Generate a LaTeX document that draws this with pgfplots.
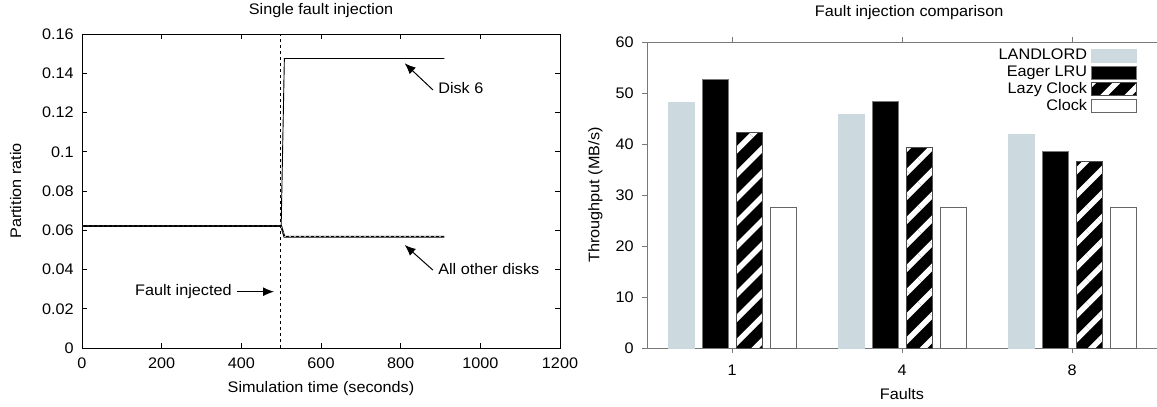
\documentclass[border=0pt]{standalone}
\usepackage{fontspec}
\setmainfont{Liberation Sans}[FakeStretch=1.06]
\usepackage{pgfplots}
\pgfplotsset{compat=1.18}
\usetikzlibrary{arrows.meta,patterns.meta}

\definecolor{landlord}{RGB}{204,218,224}
\definecolor{axgray}{RGB}{120,120,120}

\begin{document}
\fontsize{15.3bp}{18bp}\selectfont
\begin{tikzpicture}[x=1bp,y=1bp]
\useasboundingbox (0,0) rectangle (1157,406);

% left: partition ratio over time
\begin{axis}[
    at={(82bp,58bp)}, anchor=south west,
    scale only axis, width=478bp, height=314bp,
    xmin=0, xmax=1200, ymin=0, ymax=0.16,
    xtick={0,200,400,600,800,1000,1200},
    xticklabels={0,200,400,600,800,1000,1200},
    ytick={0,0.02,0.04,0.06,0.08,0.1,0.12,0.14,0.16},
    yticklabels={0,0.02,0.04,0.06,0.08,0.1,0.12,0.14,0.16},
    tick align=inside, major tick length=5bp,
    axis line style={line width=0.6bp},
    every tick/.style={black, line width=0.6bp},
    yticklabel style={xshift=-3bp},
    xticklabel style={yshift=-4.5bp},
    every axis title shift=0pt,
    title={Single fault injection},
    title style={at={(axis description cs:0.5,1.076)}, anchor=center},
    xlabel={Simulation time (seconds)},
    xlabel style={at={(axis description cs:0.5,-0.13)}, anchor=center},
    ylabel={Partition ratio},
    ylabel style={at={(axis description cs:-0.139,0.5)}, anchor=center, rotate=0},
    clip=false,
]
\addplot[black, line width=1.8bp] coordinates {(0,0.0622) (500,0.0622) (508,0.0567) (910,0.0567)};
\addplot[white, line width=0.5bp, dash pattern=on 2bp off 3bp] coordinates {(0,0.0622) (500,0.0622) (508,0.0567) (910,0.0567)};
\addplot[black, line width=0.9bp] coordinates {(0,0.0622) (500,0.0622) (508,0.1475) (910,0.1475)};
\addplot[black, line width=0.8bp, dash pattern=on 3bp off 3bp] coordinates {(497,0) (497,0.16)};

\draw[-{Latex[length=11bp,width=9bp]}, line width=1bp] (axis cs:881,0.1315) -- (axis cs:810,0.1451);
\node[anchor=west, inner sep=0pt] at (axis cs:894,0.1323) {Disk 6};
\draw[-{Latex[length=11bp,width=9bp]}, line width=1bp] (axis cs:881,0.0397) -- (axis cs:810,0.0525);
\node[anchor=west, inner sep=0pt] at (axis cs:894,0.0401) {All other disks};
\draw[-{Latex[length=11bp,width=9bp]}, line width=1bp] (axis cs:389,0.0287) -- (axis cs:482,0.0287);
\node[anchor=east, inner sep=0pt] at (axis cs:376,0.0287) {Fault injected};
\end{axis}

% right: throughput by number of faults
\begin{axis}[
    at={(647bp,58bp)}, anchor=south west,
    scale only axis, width=510bp, height=306bp,
    xmin=-0.5, xmax=2.5, ymin=0, ymax=60,
    xtick={0,1,2}, xticklabels={1,4,8},
    ytick={0,10,20,30,40,50,60},
    yticklabels={0,10,20,30,40,50,60},
    tick align=outside, major tick length=5bp,
    xtick pos=both, ytick pos=left,
    axis line style={axgray, line width=0.8bp},
    every tick/.style={axgray, line width=0.8bp},
    yticklabel style={xshift=-3bp},
    xticklabel style={yshift=-6.5bp},
    every axis title shift=0pt,
    title={Fault injection comparison},
    title style={at={(axis description cs:0.514,1.097)}, anchor=center},
    xlabel={Faults},
    xlabel style={at={(axis description cs:0.5,-0.150)}, anchor=center},
    ylabel={Throughput (MB/s)},
    ylabel style={at={(axis description cs:-0.101,0.5)}, anchor=center, rotate=0},
    legend plot pos=right,
    legend cell align=right,
    legend image code/.code={\draw[#1] (0bp,-6.5bp) rectangle (45bp,6.5bp);},
    legend style={draw=none, fill=none, at={(axis cs:2.40,59.3)}, anchor=north east,
        nodes={inner sep=1bp, text height=11bp, text depth=3bp},
        row sep=0.8bp, column sep=3bp},
]
\addplot[ybar, bar width=0.153, bar shift=-0.3, fill=landlord, draw=landlord]
    coordinates {(0,48.1) (1,45.8) (2,41.9)};
\addlegendentry{LANDLORD}
\addplot[ybar, bar width=0.153, bar shift=-0.1, fill=black, draw=axgray, line width=0.8bp]
    coordinates {(0,52.6) (1,48.4) (2,38.6)};
\addlegendentry{Eager LRU}
\addplot[ybar, bar width=0.153, bar shift=0.1, draw=black!70, line width=0.8bp,
    preaction={fill=black}, pattern={Lines[angle=45,distance=17bp,line width=5.5bp]}, pattern color=white]
    coordinates {(0,42.2) (1,39.4) (2,36.5)};
\addlegendentry{Lazy Clock}
\addplot[ybar, bar width=0.153, bar shift=0.3, fill=white, draw=black!60, line width=0.8bp]
    coordinates {(0,27.6) (1,27.6) (2,27.5)};
\addlegendentry{Clock}
\end{axis}
\end{tikzpicture}
\end{document}
